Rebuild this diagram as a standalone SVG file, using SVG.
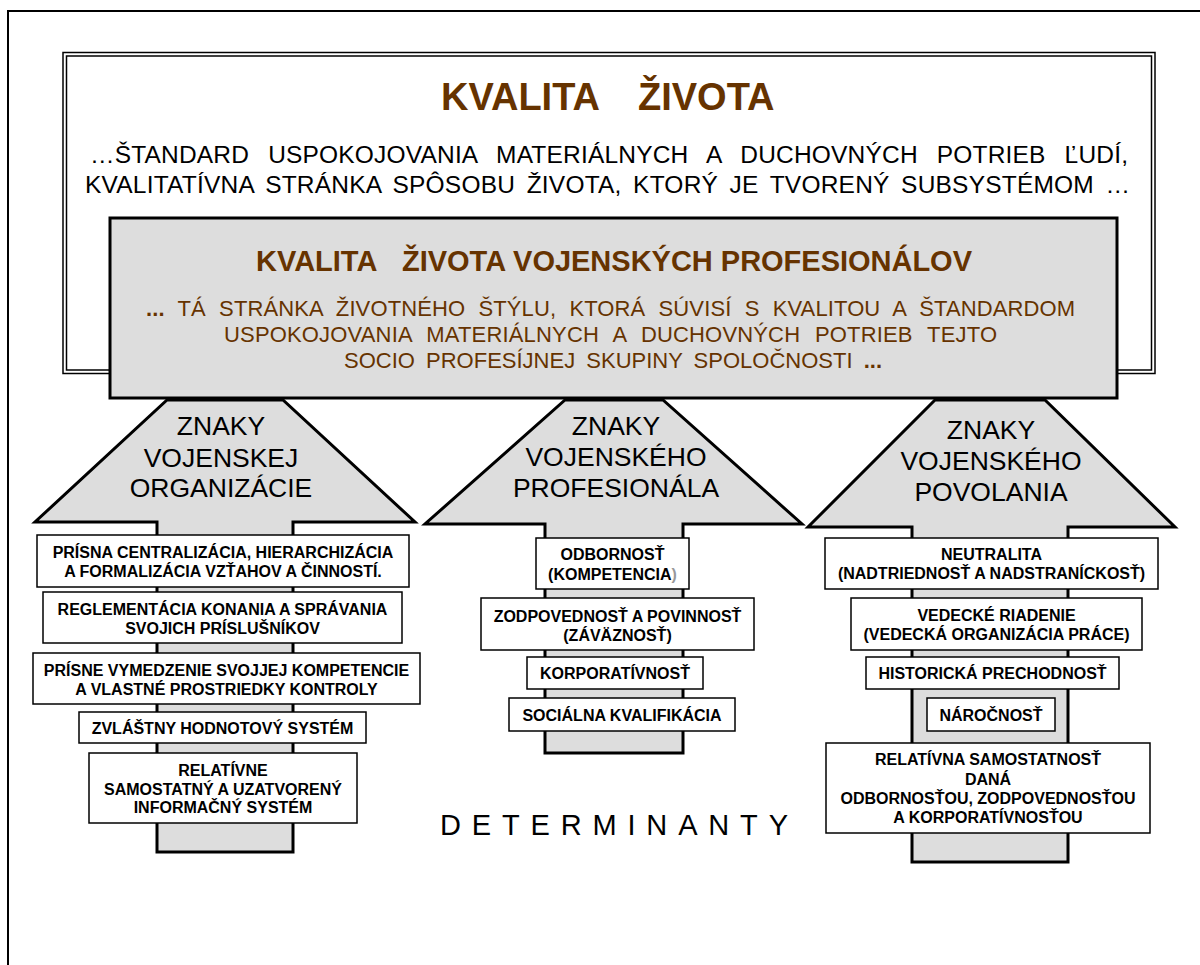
<svg xmlns="http://www.w3.org/2000/svg" width="1200" height="965" viewBox="0 0 1200 965">
<style>
text{font-family:"Liberation Sans",Arial,sans-serif}
.t1{font-size:38px;font-weight:bold;fill:#663300}
.body{font-size:24.5px;fill:#000}
.sub{font-size:29px;font-weight:bold;fill:#663300}
.bb{font-size:22px;fill:#663300}
.al{font-size:26.5px;fill:#000;text-anchor:middle}
.it{font-size:16px;font-weight:bold;fill:#000;text-anchor:middle}
.det{font-size:29px;fill:#000}
.arrow{fill:#dddddd;stroke:#000;stroke-width:3;stroke-linejoin:miter}
.box{fill:#fff;stroke:#000;stroke-width:1.5}
.gray{fill:#dddddd;stroke:#000;stroke-width:3}
</style>
<rect width="1200" height="965" fill="#fff"/>
<path d="M8,965 V11 H1200" fill="none" stroke="#000" stroke-width="2"/>

<g id="kvalita-zivota">
<rect x="63" y="52.5" width="1092" height="321" fill="#fff" stroke="#000" stroke-width="1.5"/>
<rect x="66.5" y="56" width="1085" height="314" fill="none" stroke="#000" stroke-width="1.5"/>
<text class="t1" x="441" y="110">KVALITA</text>
<text class="t1" x="638" y="110">ŽIVOTA</text>
<text class="body" x="90" y="163" word-spacing="12" textLength="1038" lengthAdjust="spacing">…ŠTANDARD USPOKOJOVANIA MATERIÁLNYCH A DUCHOVNÝCH POTRIEB ĽUDÍ,</text>
<text class="body" x="85" y="193" word-spacing="4.5" textLength="1045" lengthAdjust="spacing">KVALITATÍVNA STRÁNKA SPÔSOBU ŽIVOTA, KTORÝ JE TVORENÝ SUBSYSTÉMOM …</text>
</g>

<g id="connectors">
<polygon id="arrow-org" class="arrow" points="167,400 283,400 415,522 293,522 293,852 157,852 157,522 35,522"/>
<polygon id="arrow-prof" class="arrow" points="565,400 663,400 802,524 683,524 683,753 545,753 545,524 425,524"/>
<polygon id="arrow-pov" class="arrow" points="935,400 1045,400 1175,527 1068,527 1068,862 912,862 912,527 808,527"/>
</g>

<g id="kvalita-vojenskych">
<rect class="gray" x="110" y="218" width="1007" height="180"/>
<text class="sub" x="256" y="271">KVALITA</text>
<text class="sub" x="402" y="271" font-size="30" textLength="570" lengthAdjust="spacing">ŽIVOTA VOJENSKÝCH PROFESIONÁLOV</text>
<text class="bb" x="146" y="316" word-spacing="7" textLength="929" lengthAdjust="spacing"><tspan font-weight="bold">...</tspan> TÁ STRÁNKA ŽIVOTNÉHO ŠTÝLU, KTORÁ SÚVISÍ S KVALITOU A ŠTANDARDOM</text>
<text class="bb" x="224" y="342" word-spacing="8.5" textLength="773" lengthAdjust="spacing">USPOKOJOVANIA MATERIÁLNYCH A DUCHOVNÝCH POTRIEB TEJTO</text>
<text class="bb" x="344" y="368" word-spacing="5" textLength="538" lengthAdjust="spacing">SOCIO PROFESÍJNEJ SKUPINY SPOLOČNOSTI <tspan font-weight="bold">...</tspan></text>
</g>

<g id="znaky-organizacie">
<text class="al" x="221" y="435">ZNAKY</text>
<text class="al" x="221" y="467">VOJENSKEJ</text>
<text class="al" x="221" y="497">ORGANIZÁCIE</text>
</g>
<g id="org-1"><rect class="box" x="37" y="535" width="372" height="52"/>
<text class="it" x="223" y="558">PRÍSNA CENTRALIZÁCIA, HIERARCHIZÁCIA</text>
<text class="it" x="223" y="577">A FORMALIZÁCIA VZŤAHOV A ČINNOSTÍ.</text></g>
<g id="org-2"><rect class="box" x="43" y="592" width="359" height="51"/>
<text class="it" x="222.5" y="615">REGLEMENTÁCIA KONANIA A SPRÁVANIA</text>
<text class="it" x="222.5" y="634">SVOJICH PRÍSLUŠNÍKOV</text></g>
<g id="org-3"><rect class="box" x="33" y="653" width="387" height="51"/>
<text class="it" x="226.5" y="676">PRÍSNE VYMEDZENIE SVOJJEJ KOMPETENCIE</text>
<text class="it" x="226.5" y="695">A VLASTNÉ PROSTRIEDKY KONTROLY</text></g>
<g id="org-4"><rect class="box" x="79" y="712" width="287" height="31"/>
<text class="it" x="222.5" y="734">ZVLÁŠTNY HODNOTOVÝ SYSTÉM</text></g>
<g id="org-5"><rect class="box" x="89" y="753" width="268" height="70"/>
<text class="it" x="223" y="776">RELATÍVNE</text>
<text class="it" x="223" y="795">SAMOSTATNÝ A UZATVORENÝ</text>
<text class="it" x="223" y="813">INFORMAČNÝ SYSTÉM</text></g>

<g id="znaky-profesionala">
<text class="al" x="616" y="435">ZNAKY</text>
<text class="al" x="616" y="466">VOJENSKÉHO</text>
<text class="al" x="616" y="497">PROFESIONÁLA</text>
</g>
<g id="prof-1"><rect class="box" x="536" y="538" width="153" height="51"/>
<text class="it" x="612.5" y="560">ODBORNOSŤ</text>
<text class="it" x="612.5" y="580">(KOMPETENCIA<tspan fill="#999">)</tspan></text></g>
<g id="prof-2"><rect class="box" x="481" y="598" width="273" height="52"/>
<text class="it" x="617.5" y="622">ZODPOVEDNOSŤ A POVINNOSŤ</text>
<text class="it" x="617.5" y="641">(ZÁVÄZNOSŤ)</text></g>
<g id="prof-3"><rect class="box" x="527" y="657" width="176" height="32"/>
<text class="it" x="615" y="679">KORPORATÍVNOSŤ</text></g>
<g id="prof-4"><rect class="box" x="509" y="698" width="226" height="33"/>
<text class="it" x="622" y="721">SOCIÁLNA KVALIFIKÁCIA</text></g>

<g id="znaky-povolania">
<text class="al" x="991" y="439">ZNAKY</text>
<text class="al" x="991" y="470">VOJENSKÉHO</text>
<text class="al" x="991" y="501">POVOLANIA</text>
</g>
<g id="pov-1"><rect class="box" x="825" y="538" width="333" height="51"/>
<text class="it" x="991.5" y="560">NEUTRALITA</text>
<text class="it" x="991.5" y="579">(NADTRIEDNOSŤ A NADSTRANÍCKOSŤ)</text></g>
<g id="pov-2"><rect class="box" x="851" y="598" width="291" height="52"/>
<text class="it" x="996.5" y="621">VEDECKÉ RIADENIE</text>
<text class="it" x="996.5" y="640">(VEDECKÁ ORGANIZÁCIA PRÁCE)</text></g>
<g id="pov-3"><rect class="box" x="866" y="657" width="253" height="32"/>
<text class="it" x="992.5" y="679">HISTORICKÁ PRECHODNOSŤ</text></g>
<g id="pov-4"><rect class="box" x="927" y="698" width="128" height="33"/>
<text class="it" x="991" y="721">NÁROČNOSŤ</text></g>
<g id="pov-5"><rect class="box" x="826" y="743" width="324" height="90"/>
<text class="it" x="988" y="765">RELATÍVNA SAMOSTATNOSŤ</text>
<text class="it" x="988" y="785">DANÁ</text>
<text class="it" x="988" y="804">ODBORNOSŤOU, ZODPOVEDNOSŤOU</text>
<text class="it" x="988" y="823">A KORPORATÍVNOSŤOU</text></g>

<g id="determinanty">
<text class="det" x="440" y="835" textLength="348" lengthAdjust="spacing">DETERMINANTY</text>
</g>
</svg>
